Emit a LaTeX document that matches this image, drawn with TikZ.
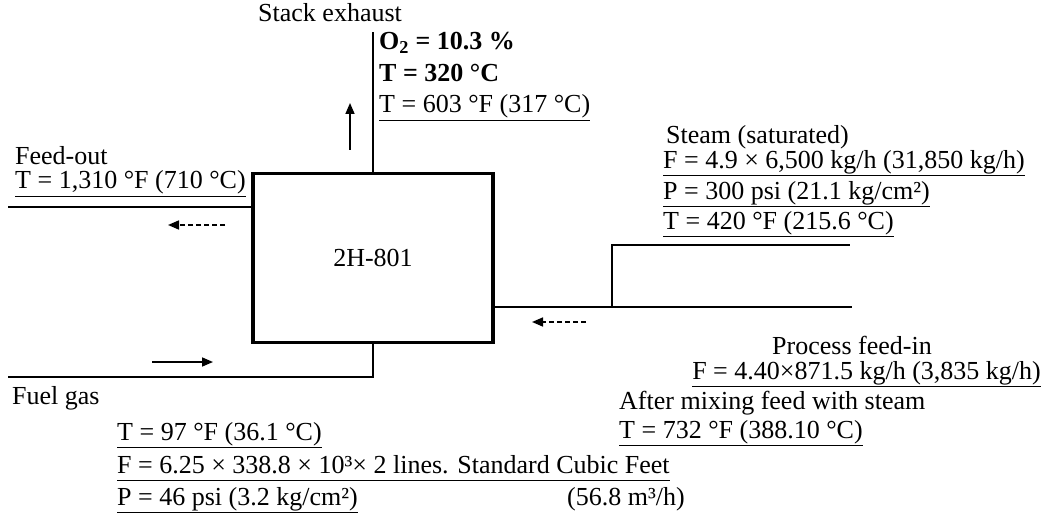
\documentclass[tikz,border=0pt]{standalone}
\usepackage{fontspec}
\setmainfont{Liberation Serif}
\usetikzlibrary{arrows.meta}
\newcommand\txsz{\fontsize{26}{30}\selectfont}
\newcommand\ulx[1]{\underline{\vphantom{(}#1}}
\begin{document}
\begin{tikzpicture}[x=1pt,y=-1pt,
  txt/.style={anchor=base west,inner sep=0pt,font=\txsz},
  txtb/.style={anchor=base west,inner sep=0pt,font=\txsz\bfseries},
  flow/.style={line width=2pt},
  unit/.style={draw,line width=3.5pt,outer sep=0pt,minimum width=240pt,minimum height=169pt,font=\txsz},
  arr/.style={line width=1.6pt,-{Triangle[length=11pt,width=9pt]}},
  darr/.style={arr,dash pattern=on 5pt off 3pt}]
\useasboundingbox (0,0) rectangle (1043,513);
% unit
\node[unit] (box) at (373,258) {2H-801};
% free ends
\coordinate (stackTop) at (373,32);
\coordinate (foEnd) at (8,207);
\coordinate (fuelEnd) at (8,377);
\coordinate (fiEnd) at (852,307);
\coordinate (steamJ) at (612,307);
\coordinate (steamEnd) at (850,245);
% connectors
\draw[flow] (box.north) -- (stackTop);
\draw[flow] (box.west |- foEnd) -- (foEnd);
\draw[flow] (box.south) -- (box.south |- fuelEnd) -- (fuelEnd);
\draw[flow] (box.east |- fiEnd) -- (fiEnd);
\draw[flow] (steamJ) -- (steamJ |- steamEnd) -- (steamEnd);
% flow direction arrows
\coordinate (a1s) at (350,150); \coordinate (a1e) at (350,103);
\coordinate (a2s) at (225,225); \coordinate (a2e) at (168,225);
\coordinate (a3s) at (152,362); \coordinate (a3e) at (213,362);
\coordinate (a4s) at (586,322); \coordinate (a4e) at (532,322);
\draw[arr] (a1s) -- (a1e);
\draw[darr] (a2s) -- (a2e);
\draw[arr] (a3s) -- (a3e);
\draw[darr] (a4s) -- (a4e);
% stack texts
\node[txt] (stack) at (258,22) {Stack exhaust};
\node[txtb] (o2) at (379,50) {O\textsubscript{2} = 10.3 \%};
\node[txtb] (t320) at (379,82) {T = 320 °C};
\node[txt] (t603) at (379,113) {\ulx{T = 603 °F (317 °C)}};
% feed-out texts
\node[txt] (fo) at (15,165) {Feed-out};
\node[txt] (t1310) at (15,189) {\ulx{T = 1,310 °F (710 °C)}};
% steam texts
\node[txt] (steam) at (666,144) {Steam (saturated)};
\node[txt] (fsteam) at (663,168) {\ulx{F = 4.9 × 6,500 kg/h (31,850 kg/h)}};
\node[txt] (psteam) at (663,199) {\ulx{P = 300 psi (21.1 kg/cm²)}};
\node[txt] (tsteam) at (663,229) {\ulx{T = 420 °F (215.6 °C)}};
% process feed texts
\node[anchor=base,inner sep=0pt,font=\txsz] (pf) at (852,354) {Process feed-in};
\node[anchor=base east,inner sep=0pt,font=\txsz] (fpf) at (1041,379) {\ulx{F = 4.40×871.5 kg/h (3,835 kg/h)}};
\node[txt] (mix) at (619,409) {After mixing feed with steam};
\node[txt] (tmix) at (619,438) {\ulx{T = 732 °F (388.10 °C)}};
% fuel gas texts
\node[txt] (fuel) at (12,404) {Fuel gas};
\node[txt] (tfuel) at (117,440) {\ulx{T = 97 °F (36.1 °C)}};
\node[txt] (ffuel) at (117,473) {\ulx{F = 6.25 × 338.8 × 10³× 2 lines. Standard Cubic Feet}};
\node[txt] (pfuel) at (117,505) {\ulx{P = 46 psi (3.2 kg/cm²)}};
\node[txt] (mfuel) at (567,505) {(56.8 m³/h)};
\end{tikzpicture}
\end{document}
